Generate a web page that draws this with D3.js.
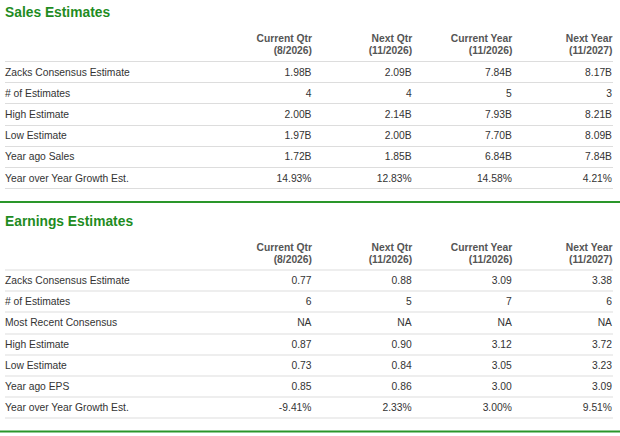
<!DOCTYPE html>
<html>
<head>
<meta charset="utf-8">
<script src="https://cdn.jsdelivr.net/npm/d3@7"></script>
<style>
  body { margin: 0; background: #fff; }
  text { font-family: "Liberation Sans", Arial, sans-serif; }
  .title { font-size: 13.8px; font-weight: bold; fill: #1f8c1f; }
  .head { font-size: 10.3px; font-weight: bold; fill: #555; }
  .cell { font-size: 10.3px; fill: #333; }
  .rule { stroke: #ddd; stroke-width: 1; }
  .green { stroke: #2a962a; stroke-width: 2; }
</style>
</head>
<body>
<svg class="chart" width="620" height="436"></svg>
<script>
var columns = ["Current Qtr", "Next Qtr", "Current Year", "Next Year"]
var periods = ["(8/2026)", "(11/2026)", "(11/2026)", "(11/2027)"]

var salesLabels = ["Zacks Consensus Estimate", "# of Estimates", "High Estimate",
                   "Low Estimate", "Year ago Sales", "Year over Year Growth Est."]
var salesCurQtr  = ["1.98B", "4", "2.00B", "1.97B", "1.72B", "14.93%"]
var salesNextQtr = ["2.09B", "4", "2.14B", "2.00B", "1.85B", "12.83%"]
var salesCurYear = ["7.84B", "5", "7.93B", "7.70B", "6.84B", "14.58%"]
var salesNextYear = ["8.17B", "3", "8.21B", "8.09B", "7.84B", "4.21%"]

var earnLabels = ["Zacks Consensus Estimate", "# of Estimates", "Most Recent Consensus",
                  "High Estimate", "Low Estimate", "Year ago EPS", "Year over Year Growth Est."]
var earnCurQtr  = ["0.77", "6", "NA", "0.87", "0.73", "0.85", "-9.41%"]
var earnNextQtr = ["0.88", "5", "NA", "0.90", "0.84", "0.86", "2.33%"]
var earnCurYear = ["3.09", "7", "NA", "3.12", "3.05", "3.00", "3.00%"]
var earnNextYear = ["3.38", "6", "NA", "3.72", "3.23", "3.09", "9.51%"]

var svg = d3.select(".chart")

// right edge of each value column
var x = d3.scalePoint()
    .domain(columns)
    .range([312, 612.5])

function drawSection(top, title, labels, cols) {
    var g = svg.append("g").attr("transform", "translate(0," + top + ")")
    var firstLine = 61
    var rowH = 21.2

    var y = d3.scaleLinear()
        .domain([0, labels.length])
        .range([firstLine, firstLine + rowH * labels.length])

    g.append("text").attr("class", "title")
      .attr("x", 5).attr("y", 17)
      .text(title)

    g.selectAll(".head1").data(columns).enter()
      .append("text").attr("class", "head")
      .attr("x", function(d) { return x(d) }).attr("y", 42)
      .attr("text-anchor", "end")
      .text(function(d) { return d })

    g.selectAll(".head2").data(columns).enter()
      .append("text").attr("class", "head")
      .attr("x", function(d) { return x(d) }).attr("y", 54)
      .attr("text-anchor", "end")
      .text(function(d, i) { return periods[i] })

    g.selectAll(".rule").data(d3.range(labels.length + 1)).enter()
      .append("line").attr("class", "rule")
      .attr("x1", 5).attr("x2", 613)
      .attr("y1", function(d) { return Math.round(y(d)) + 0.5 })
      .attr("y2", function(d) { return Math.round(y(d)) + 0.5 })

    g.selectAll(".lbl").data(labels).enter()
      .append("text").attr("class", "cell")
      .attr("x", 5)
      .attr("y", function(d, i) { return y(i) + 14.5 })
      .text(function(d) { return d })

    cols.forEach(function(vals, c) {
        g.selectAll(".col" + c).data(vals).enter()
          .append("text").attr("class", "cell")
          .attr("x", x(columns[c]) - 0.5)
          .attr("y", function(d, i) { return y(i) + 14.5 })
          .attr("text-anchor", "end")
          .text(function(d) { return d })
    })

    var bottom = Math.round(y(labels.length)) + 14
    g.append("line").attr("class", "green")
      .attr("x1", 0).attr("x2", 620)
      .attr("y1", bottom).attr("y2", bottom)
}

drawSection(0, "Sales Estimates", salesLabels,
    [salesCurQtr, salesNextQtr, salesCurYear, salesNextYear])
drawSection(208.5, "Earnings Estimates", earnLabels,
    [earnCurQtr, earnNextQtr, earnCurYear, earnNextYear])
</script>
</body>
</html>
